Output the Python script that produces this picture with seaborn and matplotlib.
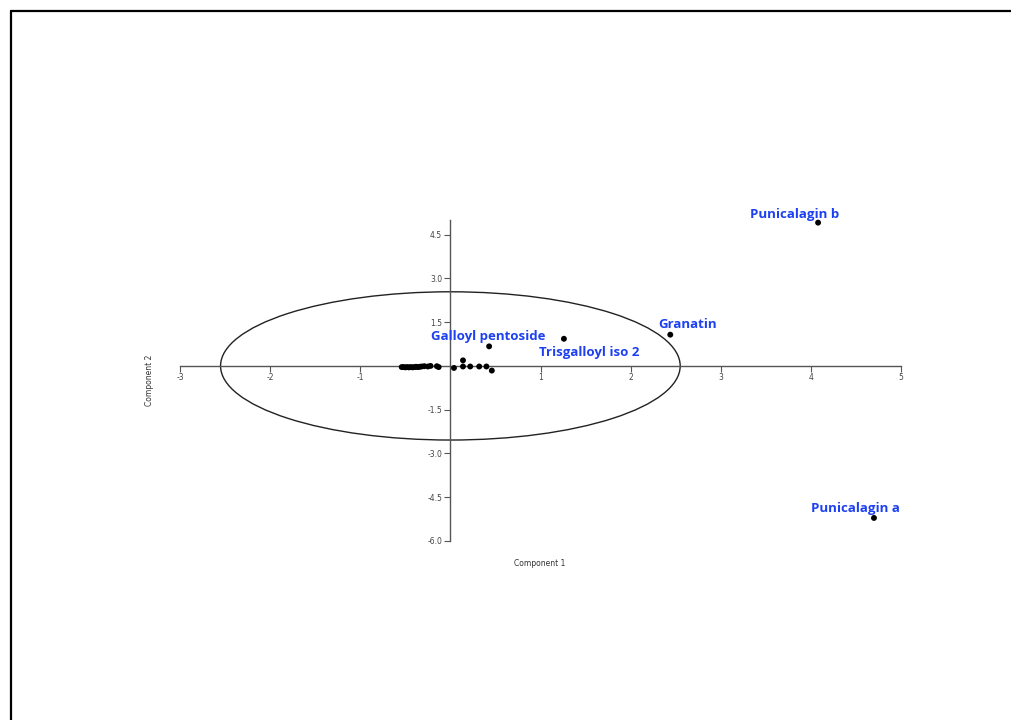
import matplotlib
matplotlib.use("Agg")
import matplotlib.pyplot as plt
from matplotlib.patches import Ellipse
from matplotlib.lines import Line2D
import seaborn as sns
import pandas as pd

# PCA scores (Component 1, Component 2) for each compound
comp1 = [4.08, 4.70, 2.44, 1.26, 0.43,
         0.04, 0.14, 0.14, 0.22, 0.32, 0.40, 0.46,
         -0.54, -0.52, -0.50, -0.48, -0.46, -0.44, -0.42, -0.40, -0.38,
         -0.36, -0.34, -0.32, -0.29, -0.25, -0.22, -0.15, -0.13]
comp2 = [4.91, -5.21, 1.07, 0.93, 0.67,
         -0.07, 0.19, -0.02, -0.02, -0.02, -0.02, -0.16,
         -0.04, -0.04, -0.05, -0.04, -0.05, -0.04, -0.05, -0.04, -0.03,
         -0.04, -0.03, -0.02, -0.01, -0.02, 0.00, -0.01, -0.04]
compound = ["Punicalagin b", "Punicalagin a", "Granatin", "Trisgalloyl iso 2",
            "Galloyl pentoside"] + [""] * 24

# label placement offsets (pixels) relative to each named point
label_dx = [-23, -19, 17, 25, -1]
label_dy = [5, 6, 7, -17, 6]

# Hotelling confidence ellipse semi-axes
ellipse_rx = 2.55
ellipse_ry = 2.54

x_ticks = [-3, -2, -1, 1, 2, 3, 4, 5]
y_ticks = [-6.0, -4.5, -3.0, -1.5, 1.5, 3.0, 4.5]

df = pd.DataFrame({"Component 1": comp1, "Component 2": comp2, "name": compound})

sns.set_style("white")
plt.rcParams["font.family"] = ["DejaVu Sans"]

W, H = 1011, 720
fig = plt.figure(figsize=(W / 100, H / 100), dpi=100)
ax = fig.add_axes([180 / W, (H - 541) / H, 721 / W, 321 / H])

sns.scatterplot(data=df, x="Component 1", y="Component 2", ax=ax,
                color="black", s=18, edgecolor="none", legend=False, zorder=3,
                clip_on=False)

ax.add_patch(Ellipse((0, 0), 2 * ellipse_rx, 2 * ellipse_ry, fill=False,
                     edgecolor="#222222", lw=1.0, zorder=2))

for i, name in enumerate(compound[:5]):
    ax.annotate(name, (comp1[i], comp2[i]), xytext=(label_dx[i], label_dy[i]),
                textcoords="offset pixels", ha="center", va="baseline",
                color="#1c40f2", fontsize=9.5, fontweight="bold",
                family=["Open Sans", "DejaVu Sans"], annotation_clip=False)

ax.set_xlim(-3, 5)
ax.set_ylim(-6, 5)

for side in ("top", "right"):
    ax.spines[side].set_visible(False)
ax.spines["left"].set_position(("data", 0))
ax.spines["bottom"].set_position(("data", 0))
for side in ("left", "bottom"):
    ax.spines[side].set_color("#555555")
    ax.spines[side].set_linewidth(1.0)

ax.set_xticks(x_ticks)
ax.set_xticklabels([str(t) for t in x_ticks])
ax.set_yticks(y_ticks)
ax.set_yticklabels([f"{t:.1f}" for t in y_ticks])
ax.tick_params(axis="both", direction="out", length=4, width=0.8,
               color="#555555", labelsize=5.5, labelcolor="#444444", pad=2,
               bottom=True, left=True)
ax.tick_params(axis="x", pad=1)

ax.set_xlabel("")
ax.set_ylabel("")
fig.text(540 / W, 1 - 564 / H, "Component 1", ha="center", va="center",
         fontsize=5.5, color="#333333")
fig.text(150 / W, 1 - 380 / H, "Component 2", ha="center", va="center",
         rotation=90, fontsize=5.5, color="#333333")

# outer frame
fig.add_artist(Line2D([11 / W, 1.0], [1 - 11 / H, 1 - 11 / H],
                      transform=fig.transFigure, color="black", lw=1.6))
fig.add_artist(Line2D([11 / W, 11 / W], [1 - 11 / H, 0.0],
                      transform=fig.transFigure, color="black", lw=1.6))

fig.savefig("out.png", dpi=100)
